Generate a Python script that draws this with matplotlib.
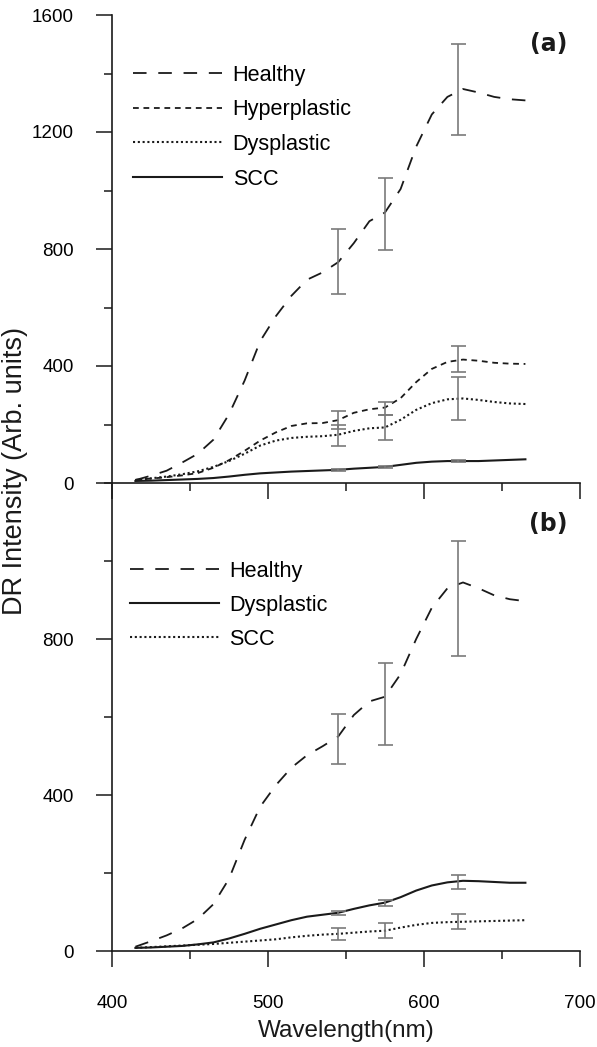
import matplotlib
matplotlib.use("Agg")
import matplotlib.pyplot as plt
from matplotlib.ticker import MultipleLocator, FixedLocator

plt.rcParams['font.family'] = ['Liberation Sans', 'DejaVu Sans']

# ---------------- data ----------------
wavelength = [415, 425, 435, 445, 455, 465, 475, 485, 495, 505, 515, 525, 535,
              545, 555, 565, 575, 585, 595, 605, 615, 625, 635, 645, 655, 665]

# panel (a)
a_healthy = [10, 25, 42, 70, 100, 148, 235, 350, 485, 570, 640, 695, 720,
             755, 820, 895, 925, 1005, 1150, 1260, 1320, 1347, 1335, 1320, 1312, 1308]
a_hyper = [11, 15, 20, 26, 34, 52, 78, 110, 145, 173, 195, 204, 205,
           215, 240, 252, 258, 290, 345, 390, 414, 422, 418, 411, 408, 407]
a_dysp = [10, 16, 22, 30, 40, 55, 75, 100, 128, 145, 154, 158, 160,
          165, 178, 187, 190, 216, 250, 273, 286, 289, 284, 277, 272, 270]
a_scc = [7, 8, 10, 12, 14, 17, 22, 28, 33, 36, 39, 41, 43,
         45, 49, 52, 55, 62, 69, 73, 75, 75, 75, 77, 79, 81]

# panel (b)
b_healthy = [11, 25, 40, 58, 82, 120, 185, 285, 370, 425, 470, 502, 525,
             550, 605, 640, 652, 710, 800, 880, 930, 945, 930, 912, 902, 897]
b_dysp = [8, 9, 11, 13, 17, 22, 32, 44, 57, 68, 79, 88, 93,
          98, 108, 117, 124, 138, 155, 168, 176, 180, 179, 177, 175, 175]
b_scc = [8, 10, 12, 14, 16, 18, 21, 24, 27, 30, 35, 39, 42,
         44, 47, 50, 52, 60, 67, 72, 74, 75, 76, 77, 78, 79]

# error bars
err_x = [545, 575, 622]
a_healthy_mean = [757, 920, 1346]
a_healthy_sd = [110, 123, 155]
a_hyper_mean = [215, 255, 423]
a_hyper_sd = [32, 22, 45]
a_dysp_mean = [163, 189, 289]
a_dysp_sd = [35, 42, 75]
a_scc_mean = [45, 55, 75]
a_scc_sd = [3, 3, 4]

b_healthy_mean = [543, 633, 904]
b_healthy_sd = [64, 105, 148]
b_dysp_mean = [98, 124, 177]
b_dysp_sd = [5, 8, 18]
b_scc_mean = [44, 52, 75]
b_scc_sd = [16, 19, 19]

labels_a = ['Healthy', 'Hyperplastic', 'Dysplastic', 'SCC']
labels_b = ['Healthy', 'Dysplastic', 'SCC']

# ---------------- styles ----------------
LC = '#1a1a1a'
EC = '#7a7a7a'
LW = 1.3
long_dash = dict(linestyle=(0, (7.5, 6.5)))
short_dash = dict(linestyle=(0, (3.2, 2.6)))
dotted = dict(linestyle=(0, (1.0, 1.3)))
solid = dict(linestyle='-')

W, H = 597, 1047
fig = plt.figure(figsize=(W / 100, H / 100), dpi=100)
left = 112 / W
width = 468 / W
ax_a = fig.add_axes([left, (H - 483) / H, width, 468 / H])
ax_b = fig.add_axes([left, (H - 951) / H, width, 468 / H])


def style_axes(ax, ymax, ymajor, show_xlabels):
    ax.set_xlim(400, 700)
    ax.set_ylim(0, ymax)
    for s in ['top', 'right']:
        ax.spines[s].set_visible(False)
    for s in ['left', 'bottom']:
        ax.spines[s].set_linewidth(1.2)
        ax.spines[s].set_color('#1a1a1a')
    ax.xaxis.set_major_locator(FixedLocator([400, 500, 600, 700]))
    ax.xaxis.set_minor_locator(FixedLocator([450, 550, 650]))
    ax.yaxis.set_major_locator(FixedLocator(ymajor))
    ax.yaxis.set_minor_locator(MultipleLocator(200))
    ax.tick_params(axis='both', which='major', direction='out', length=11.5,
                   width=1.1, color='#1a1a1a', labelsize=13.6)
    ax.tick_params(axis='both', which='minor', direction='out', length=5.5,
                   width=1.1, color='#1a1a1a')
    ax.tick_params(axis='y', which='major', pad=16)
    ax.tick_params(axis='x', which='major', pad=20)
    if not show_xlabels:
        ax.tick_params(axis='x', labelbottom=False)
    ax.patch.set_alpha(0)


style_axes(ax_a, 1600, [0, 400, 800, 1200, 1600], False)
style_axes(ax_b, 1200, [0, 400, 800], True)

# panel (a) curves
h1, = ax_a.plot(wavelength, a_healthy, color=LC, lw=LW, **long_dash)
h2, = ax_a.plot(wavelength, a_hyper, color=LC, lw=LW, **short_dash)
h3, = ax_a.plot(wavelength, a_dysp, color=LC, lw=1.5, **dotted)
h4, = ax_a.plot(wavelength, a_scc, color=LC, lw=1.5, **solid)
for m, s in [(a_healthy_mean, a_healthy_sd), (a_hyper_mean, a_hyper_sd),
             (a_dysp_mean, a_dysp_sd), (a_scc_mean, a_scc_sd)]:
    ax_a.errorbar(err_x, m, yerr=s, fmt='none', ecolor=EC, elinewidth=1.2,
                  capsize=5.4, capthick=1.2)

# panel (b) curves
g1, = ax_b.plot(wavelength, b_healthy, color=LC, lw=LW, **long_dash)
g2, = ax_b.plot(wavelength, b_dysp, color=LC, lw=1.5, **solid)
g3, = ax_b.plot(wavelength, b_scc, color=LC, lw=1.5, **dotted)
for m, s in [(b_healthy_mean, b_healthy_sd), (b_dysp_mean, b_dysp_sd),
             (b_scc_mean, b_scc_sd)]:
    ax_b.errorbar(err_x, m, yerr=s, fmt='none', ecolor=EC, elinewidth=1.2,
                  capsize=5.4, capthick=1.2)

leg_a = ax_a.legend([h1, h2, h3, h4], labels_a, loc='upper left',
                    bbox_to_anchor=(0.045, 0.894), frameon=False,
                    fontsize=15.6, handlelength=4.1, handletextpad=0.5,
                    labelspacing=0.63, borderpad=0, borderaxespad=0)
leg_b = ax_b.legend([g1, g2, g3], labels_b, loc='upper left',
                    bbox_to_anchor=(0.038, 0.834), frameon=False,
                    fontsize=15.6, handlelength=4.1, handletextpad=0.5,
                    labelspacing=0.6, borderpad=0, borderaxespad=0)

ax_a.text(0.974, 0.938, '(a)', transform=ax_a.transAxes, ha='right',
          va='center', fontsize=17, fontweight='bold', family='DejaVu Sans',
          color='#1a1a1a')
ax_b.text(0.974, 0.9125, '(b)', transform=ax_b.transAxes, ha='right',
          va='center', fontsize=17, fontweight='bold', family='DejaVu Sans',
          color='#1a1a1a')

fig.text(15 / W, (H - 471) / H, 'DR Intensity (Arb. units)', rotation=90,
         ha='center', va='center', fontsize=19.5, color='#1a1a1a')
ax_b.set_xlabel('Wavelength(nm)', fontsize=17.5, color='#1a1a1a', labelpad=6)

fig.savefig('out.png', dpi=100)
